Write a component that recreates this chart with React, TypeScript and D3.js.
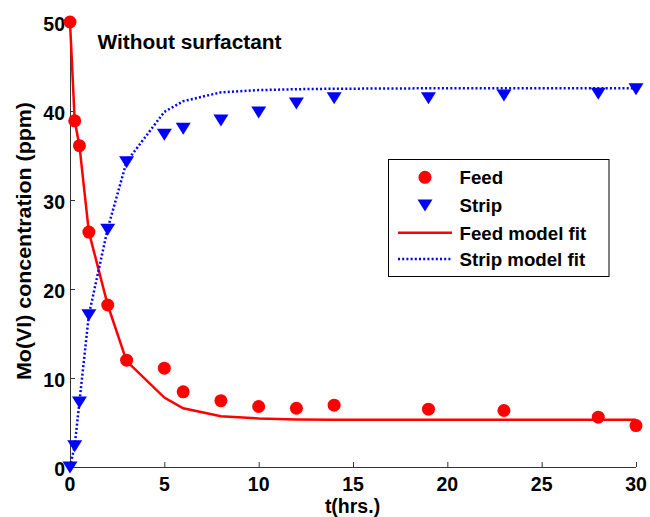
import React from "react";
import * as d3 from "d3";

const times = [0, 0.25, 0.5, 1, 2, 3, 5, 6, 8, 10, 12, 14, 19, 23, 28, 30];
const feed = [50, 38.9, 36.1, 26.4, 18.2, 12.0, 11.1, 8.45, 7.45, 6.8, 6.6, 6.95, 6.5, 6.35, 5.6, 4.65];
const strip = [0, 2.4, 7.3, 17.1, 26.7, 34.3, 37.4, 38.05, 39.0, 39.9, 40.9, 41.5, 41.5, 41.8, 42.0, 42.5];
const feedFit = [50, 38.9, 36.1, 26.4, 18.2, 11.9, 7.8, 6.6, 5.7, 5.45, 5.35, 5.3, 5.3, 5.3, 5.3, 5.3];
const stripFit = [0, 2.4, 7.3, 17.1, 26.8, 34.3, 39.9, 41.1, 42.1, 42.35, 42.45, 42.5, 42.55, 42.55, 42.55, 42.55];
const xTicks = [0, 5, 10, 15, 20, 25, 30];
const yTicks = [0, 10, 20, 30, 40, 50];
const legendLabels = ["Feed", "Strip", "Feed model fit", "Strip model fit"];

const W = 650;
const H = 517;
const FONT = "'Liberation Sans', Arial, Helvetica, sans-serif";

export default function App() {
  const x = d3.scaleLinear().domain([0, 30]).range([70, 636]);
  const y = d3.scaleLinear().domain([0, 50]).range([467, 22]);
  const line = d3
    .line<[number, number]>()
    .x((d) => x(d[0]))
    .y((d) => y(d[1]));
  const feedFitPts = times.map((t, i) => [t, feedFit[i]] as [number, number]);
  const stripFitPts = times.map((t, i) => [t, stripFit[i]] as [number, number]);
  const tri = (cx: number, cy: number) =>
    `M${cx - 7.5},${cy - 5.5}L${cx + 7.5},${cy - 5.5}L${cx},${cy + 6.5}Z`;

  const x0 = x.range()[0];
  const x1 = x.range()[1];
  const y0 = y.range()[0];
  const y1 = y.range()[1];

  const lgX = 388.5;
  const lgY = 159.5;
  const lgRows = [177.3, 205, 232.7, 259];

  return (
    <svg
      width={W}
      height={H}
      style={{ position: "absolute", left: 0, top: 0, background: "#fff" }}
      fontFamily={FONT}
      fontWeight="bold"
    >
      <rect x={0} y={0} width={W} height={H} fill="#fff" />
      {/* axes */}
      <line x1={x0} x2={x1} y1={y0 + 0.5} y2={y0 + 0.5} stroke="#333" strokeWidth={1} />
      <line x1={x0 + 0.5} x2={x0 + 0.5} y1={y0} y2={y1} stroke="#333" strokeWidth={1} />
      {xTicks.map((t) => (
        <g key={"xt" + t}>
          <line x1={x(t) + 0.5} x2={x(t) + 0.5} y1={y0} y2={y0 - 5} stroke="#333" />
          <text x={x(t)} y={491} textAnchor="middle" fontSize={19.5} fill="#000">
            {t}
          </text>
        </g>
      ))}
      {yTicks.map((t) => (
        <g key={"yt" + t}>
          <line x1={x0} x2={x0 + 5} y1={y(t) + 0.5} y2={y(t) + 0.5} stroke="#333" />
          <text x={65} y={y(t) + 8.5} textAnchor="end" fontSize={19.5} fill="#000">
            {t}
          </text>
        </g>
      ))}
      {/* axis labels */}
      <text x={352.5} y={512.5} textAnchor="middle" fontSize={19.5} fill="#000">
        t(hrs.)
      </text>
      <text
        transform={`translate(31,241) rotate(-90)`}
        textAnchor="middle"
        fontSize={19.5}
        fill="#000"
        textLength={278}
        lengthAdjust="spacingAndGlyphs"
      >
        Mo(VI) concentration (ppm)
      </text>
      <text x={97.5} y={49.3} fontSize={19.5} fill="#000" textLength={184} lengthAdjust="spacingAndGlyphs">
        Without surfactant
      </text>

      {/* model fits */}
      <path d={line(feedFitPts) || ""} fill="none" stroke="#ff0000" strokeWidth={2.5} />
      <path
        d={line(stripFitPts) || ""}
        fill="none"
        stroke="#0000ff"
        strokeWidth={2.5}
        strokeDasharray="2,2.2"
      />

      {/* data markers */}
      {times.map((t, i) => (
        <circle key={"f" + i} cx={x(t)} cy={y(feed[i])} r={6.5} fill="#ff0000" />
      ))}
      {times.map((t, i) => (
        <path key={"s" + i} d={tri(x(t), y(strip[i]))} fill="#0000ff" />
      ))}

      {/* legend */}
      <rect x={lgX} y={lgY} width={220.5} height={117} fill="#fff" stroke="#000" strokeWidth={1} />
      <circle cx={425} cy={lgRows[0]} r={6.5} fill="#ff0000" />
      <path d={tri(425, lgRows[1])} fill="#0000ff" />
      <line x1={398} x2={452} y1={lgRows[2]} y2={lgRows[2]} stroke="#ff0000" strokeWidth={2.5} />
      <line
        x1={398}
        x2={452}
        y1={lgRows[3]}
        y2={lgRows[3]}
        stroke="#0000ff"
        strokeWidth={2.5}
        strokeDasharray="2,2.2"
      />
      {legendLabels.map((l, i) => (
        <text key={l} x={459.5} y={lgRows[i] + 6.8} fontSize={18.7} fill="#000">
          {l}
        </text>
      ))}
    </svg>
  );
}
